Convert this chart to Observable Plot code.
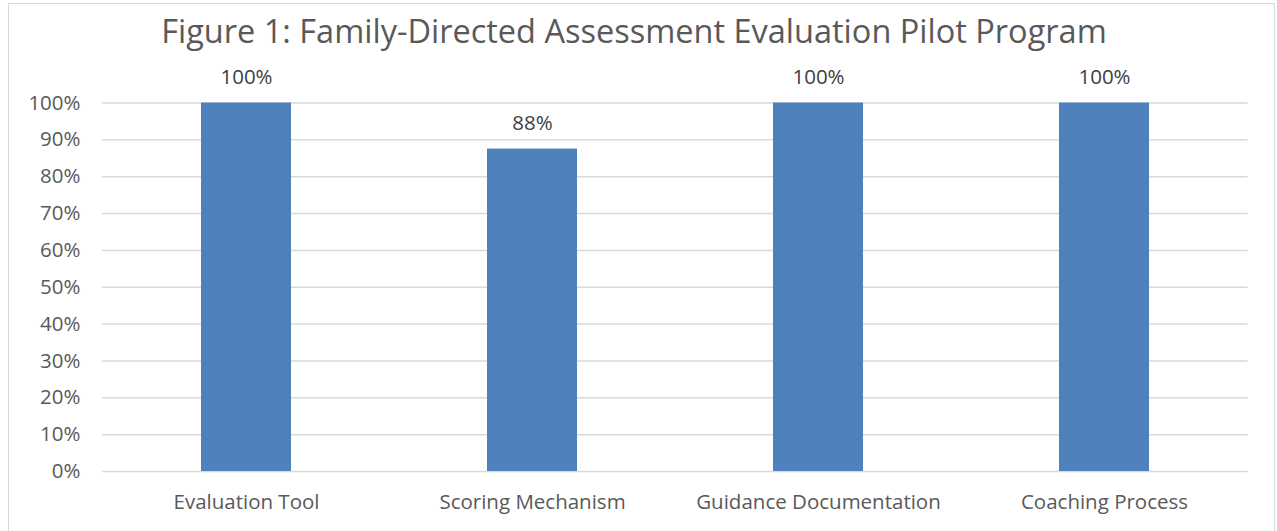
<!DOCTYPE html>
<html>
<head>
<meta charset="utf-8">
<script src="https://cdn.jsdelivr.net/npm/d3@7"></script>
<script src="https://cdn.jsdelivr.net/npm/@observablehq/plot@0.6"></script>
<style>
  html, body { margin: 0; padding: 0; background: #fff; }
  #wrap { position: relative; width: 1277px; height: 531px; overflow: hidden; font-family: "Open Sans", sans-serif; }
  #frame { position: absolute; left: 8px; top: 3px; width: 1267px; height: 540px; border: 1.5px solid #d9d9d9; box-sizing: border-box; }
  #title { position: absolute; left: 0; width: 1268px; top: 11px; text-align: center; font-size: 32.5px; color: #595959; line-height: 40px; white-space: nowrap; }
  #chart { position: absolute; left: 0; top: 0; }
</style>
</head>
<body>
<div id="wrap">
  <div id="frame"></div>
  <div id="title">Figure 1: Family-Directed Assessment Evaluation Pilot Program</div>
  <div id="chart"></div>
</div>
<script>
const categories = ["Evaluation Tool", "Scoring Mechanism", "Guidance Documentation", "Coaching Process"];
const values = [1.0, 0.875, 1.0, 1.0];
const yTicks = [0, 0.1, 0.2, 0.3, 0.4, 0.5, 0.6, 0.7, 0.8, 0.9, 1.0];

const data = categories.map((c, i) => ({category: c, value: values[i]}));
const pct = d3.format(".0%");

const chart = Plot.plot({
  width: 1277,
  height: 531,
  marginLeft: 102,
  marginRight: 29.5,
  marginTop: 102.5,
  marginBottom: 60,
  style: {fontFamily: "Open Sans, sans-serif", fontSize: "20.5px", color: "#595959", background: "transparent"},
  x: {domain: categories, paddingInner: 0.686, paddingOuter: 0.343, label: null},
  y: {domain: [0, 1], label: null},
  marks: [
    Plot.ruleY(yTicks, {stroke: "#d9d9d9", strokeWidth: 1.5}),
    Plot.barY(data, {x: "category", y: "value", fill: "#4f81bd"}),
    Plot.text(data, {x: "category", y: "value", text: d => pct(d.value), dy: -26, fill: "#404040", fontSize: 20.5}),
    Plot.axisY({ticks: yTicks, tickFormat: pct, tickSize: 0, tickPadding: 22, fill: "#595959", fontSize: 20.5}),
    Plot.axisX({tickSize: 0, tickPadding: 22.5, fill: "#595959", fontSize: 20.5})
  ]
});
document.getElementById("chart").appendChild(chart);
</script>
</body>
</html>
